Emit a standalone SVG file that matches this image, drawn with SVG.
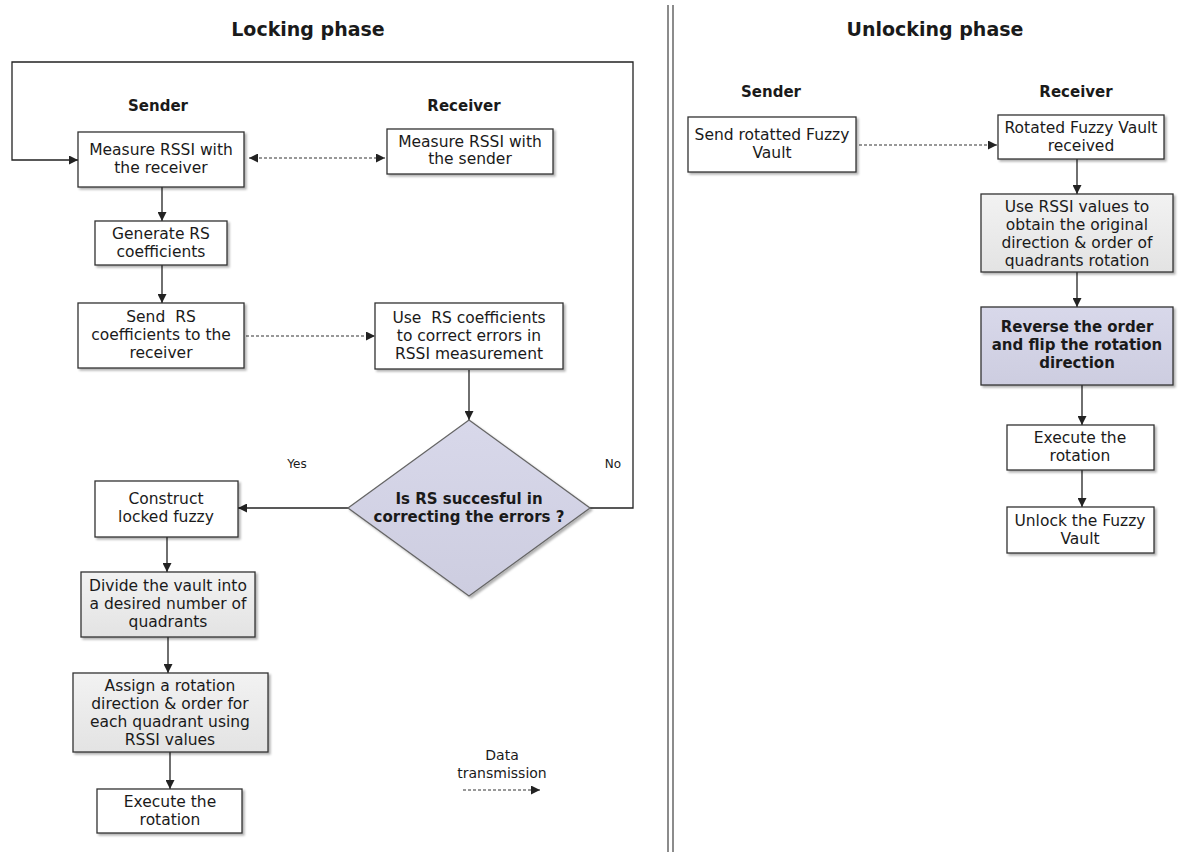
<svg xmlns="http://www.w3.org/2000/svg" width="1182" height="852" viewBox="0 0 1182 852">
<style>
text{font-family:"DejaVu Sans",Verdana,sans-serif;fill:#1a1a1a;text-anchor:middle;white-space:pre}
.t{font-size:15.5px}
.b{font-size:15px;font-weight:bold}
.h{font-size:19px;font-weight:bold}
.s{font-size:12px}
.box{fill:#fff;stroke:#333;stroke-width:1.3;filter:url(#sh)}
.gray{fill:url(#gg);stroke:#333;stroke-width:1.3;filter:url(#sh)}
.lav{fill:url(#lg);stroke:#333;stroke-width:1.3;filter:url(#sh)}
.ln{fill:none;stroke:#222;stroke-width:1.3}
.dash{fill:none;stroke:#333;stroke-width:1.2;stroke-dasharray:3 2}
</style>
<defs>
<filter id="sh" x="-10%" y="-10%" width="130%" height="140%">
<feDropShadow dx="2" dy="2" stdDeviation="1.2" flood-color="#000" flood-opacity="0.3"/>
</filter>
<linearGradient id="gg" x1="0" y1="0" x2="0" y2="1">
<stop offset="0" stop-color="#f2f2f2"/><stop offset="1" stop-color="#e3e3e3"/>
</linearGradient>
<linearGradient id="lg" x1="0" y1="0" x2="0" y2="1">
<stop offset="0" stop-color="#d8d8ea"/><stop offset="1" stop-color="#cdcde0"/>
</linearGradient>
<marker id="ah" viewBox="0 0 10 10" refX="10" refY="5" markerWidth="9" markerHeight="9" markerUnits="userSpaceOnUse" orient="auto-start-reverse">
<path d="M0,0 L10,5 L0,10 z" fill="#222"/>
</marker>
</defs>
<rect width="1182" height="852" fill="#fff"/>

<g id="divider">
<line x1="668" y1="5" x2="668" y2="852" stroke="#666" stroke-width="1.5"/>
<line x1="673" y1="5" x2="673" y2="852" stroke="#666" stroke-width="1.5"/>
</g>

<g id="labels">
<text class="h" x="308" y="36">Locking phase</text>
<text class="h" x="935" y="36">Unlocking phase</text>
<text class="b" x="158" y="111">Sender</text>
<text class="b" x="464" y="111">Receiver</text>
<text class="b" x="771" y="97">Sender</text>
<text class="b" x="1076" y="97">Receiver</text>
<text class="s" x="297" y="468">Yes</text>
<text class="s" x="613" y="468">No</text>
<text x="502" y="760" style="font-size:14px">Data</text>
<text x="502" y="778" style="font-size:14px">transmission</text>
</g>

<g id="connectors">
<path class="ln" d="M590,508 H633 V62 H12 V160 H78" marker-end="url(#ah)"/>
<path class="dash" d="M249,158 H385" marker-start="url(#ah)" marker-end="url(#ah)"/>
<path class="ln" d="M162,187 V221" marker-end="url(#ah)"/>
<path class="ln" d="M162,265 V303" marker-end="url(#ah)"/>
<path class="dash" d="M246,336 H375" marker-end="url(#ah)"/>
<path class="ln" d="M469,370 V420" marker-end="url(#ah)"/>
<path class="ln" d="M348,508 H238" marker-end="url(#ah)"/>
<path class="ln" d="M167,537 V572" marker-end="url(#ah)"/>
<path class="ln" d="M168,637 V673" marker-end="url(#ah)"/>
<path class="ln" d="M170,752 V789" marker-end="url(#ah)"/>
<path class="dash" d="M463,790 H540" marker-end="url(#ah)"/>
<path class="dash" d="M859,145 H997" marker-end="url(#ah)"/>
<path class="ln" d="M1077,159 V194" marker-end="url(#ah)"/>
<path class="ln" d="M1077,272 V307" marker-end="url(#ah)"/>
<path class="ln" d="M1082,385 V425" marker-end="url(#ah)"/>
<path class="ln" d="M1082,470 V507" marker-end="url(#ah)"/>
</g>

<g id="measure-sender">
<rect class="box" x="78" y="132" width="166" height="55"/>
<text class="t" x="161" y="155">Measure RSSI with</text>
<text class="t" x="161" y="173">the receiver</text>
</g>
<g id="measure-receiver">
<rect class="box" x="387" y="129" width="166" height="45"/>
<text class="t" x="470" y="147">Measure RSSI with</text>
<text class="t" x="470" y="164">the sender</text>
</g>
<g id="generate-rs">
<rect class="box" x="95" y="221" width="132" height="44"/>
<text class="t" x="161" y="239">Generate RS</text>
<text class="t" x="161" y="257">coefficients</text>
</g>
<g id="send-rs">
<rect class="box" x="78" y="303" width="166" height="65"/>
<text class="t" x="161" y="322">Send  RS</text>
<text class="t" x="161" y="340">coefficients to the</text>
<text class="t" x="161" y="358">receiver</text>
</g>
<g id="use-rs">
<rect class="box" x="375" y="303" width="188" height="66"/>
<text class="t" x="469" y="323">Use  RS coefficients</text>
<text class="t" x="469" y="341">to correct errors in</text>
<text class="t" x="469" y="359">RSSI measurement</text>
</g>
<g id="decision">
<path d="M469,420 L590,508 L469,596 L348,508 Z" fill="url(#lg)" stroke="#666" stroke-width="1.3" filter="url(#sh)"/>
<text class="b" x="469" y="504">Is RS succesful in</text>
<text class="b" x="469" y="522">correcting the errors ?</text>
</g>
<g id="construct">
<rect class="box" x="95" y="481" width="143" height="56"/>
<text class="t" x="166" y="504">Construct</text>
<text class="t" x="166" y="522">locked fuzzy</text>
</g>
<g id="divide">
<rect class="gray" x="81" y="572" width="174" height="65"/>
<text class="t" x="168" y="591">Divide the vault into</text>
<text class="t" x="168" y="609">a desired number of</text>
<text class="t" x="168" y="627">quadrants</text>
</g>
<g id="assign">
<rect class="gray" x="73" y="673" width="195" height="79"/>
<text class="t" x="170" y="691">Assign a rotation</text>
<text class="t" x="170" y="709">direction &amp; order for</text>
<text class="t" x="170" y="727">each quadrant using</text>
<text class="t" x="170" y="745">RSSI values</text>
</g>
<g id="execute-lock">
<rect class="box" x="97" y="789" width="145" height="44"/>
<text class="t" x="170" y="807">Execute the</text>
<text class="t" x="170" y="825">rotation</text>
</g>

<g id="send-rotated">
<rect class="box" x="688" y="117" width="168" height="55"/>
<text class="t" x="772" y="140">Send rotatted Fuzzy</text>
<text class="t" x="772" y="158">Vault</text>
</g>
<g id="rotated-received">
<rect class="box" x="998" y="115" width="166" height="44"/>
<text class="t" x="1081" y="133">Rotated Fuzzy Vault</text>
<text class="t" x="1081" y="151">received</text>
</g>
<g id="use-rssi">
<rect class="gray" x="981" y="194" width="192" height="78"/>
<text class="t" x="1077" y="212">Use RSSI values to</text>
<text class="t" x="1077" y="230">obtain the original</text>
<text class="t" x="1077" y="248">direction &amp; order of</text>
<text class="t" x="1077" y="266">quadrants rotation</text>
</g>
<g id="reverse">
<rect class="lav" x="981" y="307" width="192" height="78"/>
<text class="b" x="1077" y="332">Reverse the order</text>
<text class="b" x="1077" y="350">and flip the rotation</text>
<text class="b" x="1077" y="368">direction</text>
</g>
<g id="execute-unlock">
<rect class="box" x="1007" y="425" width="147" height="45"/>
<text class="t" x="1080" y="443">Execute the</text>
<text class="t" x="1080" y="461">rotation</text>
</g>
<g id="unlock">
<rect class="box" x="1007" y="507" width="147" height="46"/>
<text class="t" x="1080" y="526">Unlock the Fuzzy</text>
<text class="t" x="1080" y="544">Vault</text>
</g>
</svg>
